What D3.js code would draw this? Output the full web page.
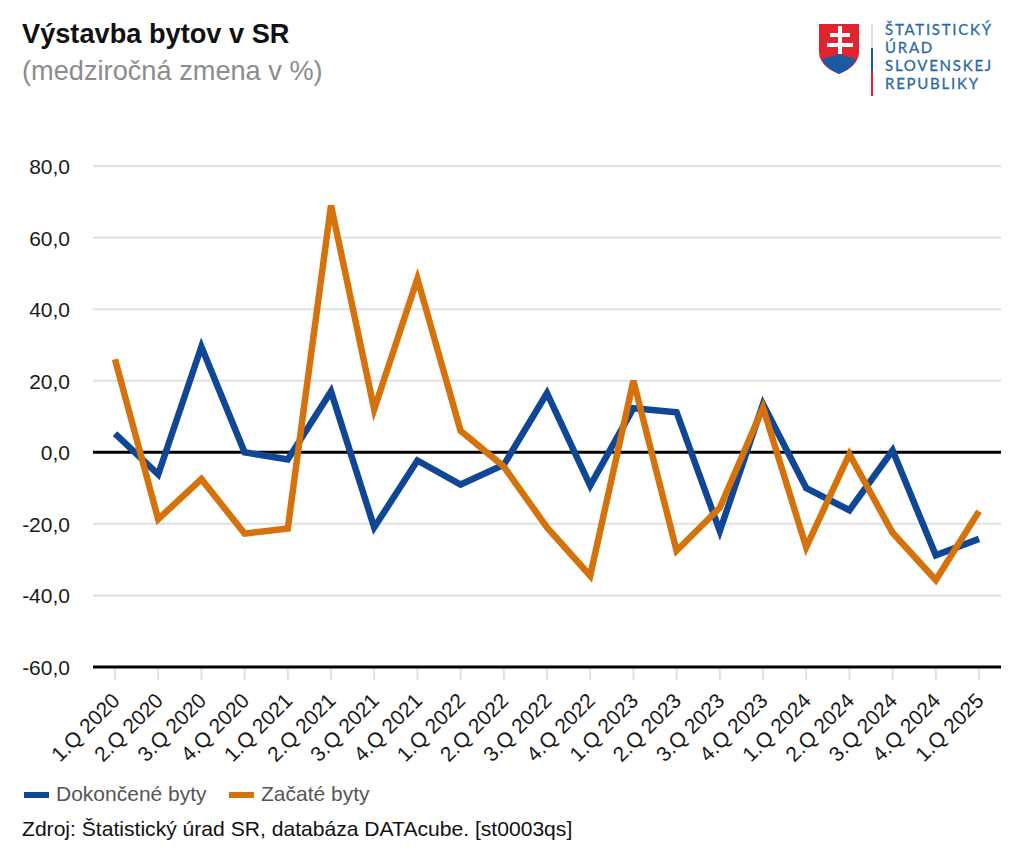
<!DOCTYPE html>
<html>
<head>
<meta charset="utf-8">
<script src="https://cdn.jsdelivr.net/npm/d3@7"></script>
<style>
  html, body { margin: 0; padding: 0; background: #fff; }
  svg { display: block; font-family: "Liberation Sans", Arial, sans-serif; }
</style>
</head>
<body>
<div id="chart"></div>
<script>
const categories = ["1.Q 2020","2.Q 2020","3.Q 2020","4.Q 2020","1.Q 2021","2.Q 2021","3.Q 2021","4.Q 2021",
  "1.Q 2022","2.Q 2022","3.Q 2022","4.Q 2022","1.Q 2023","2.Q 2023","3.Q 2023","4.Q 2023",
  "1.Q 2024","2.Q 2024","3.Q 2024","4.Q 2024","1.Q 2025"]
const dokoncene = [5.2,-6.2,29.5,0,-2,17,-21,-2.3,-9,-3.5,16.5,-9.3,12.3,11.2,-22,13.5,-10,-16.2,0.5,-28.8,-24.2]
const zacate = [26,-18.7,-7.5,-22.7,-21.3,69,12,48.5,6,-4,-21,-34.5,20,-27.5,-15.5,12.5,-26.5,-0.5,-22.5,-35.7,-16.5]
const yTicks = [80,60,40,20,0,-20,-40,-60]
const seriesNames = ["Dokončené byty","Začaté byty"]
const seriesColors = ["#0f4796","#d6720b"]
const logoLines = ["ŠTATISTICKÝ","ÚRAD","SLOVENSKEJ","REPUBLIKY"]

const svg = d3.select("#chart").append("svg")
  .attr("width", 1024)
  .attr("height", 857)

const x = d3.scalePoint().domain(categories).range([115, 979])
const y = d3.scaleLinear().domain([-60, 80]).range([667, 166])
const left = 93, right = 1001

// title
svg.append("text").attr("x", 22).attr("y", 43)
  .attr("font-size", 27.2).attr("font-weight", "bold").attr("fill", "#111")
  .text("Výstavba bytov v SR")
svg.append("text").attr("x", 22).attr("y", 80)
  .attr("font-size", 27.2).attr("fill", "#8c8c8c")
  .text("(medziročná zmena v %)")

// gridlines
svg.selectAll(".grid").data(yTicks.filter(d => d !== 0 && d !== -60)).enter()
  .append("line")
  .attr("x1", left).attr("x2", right)
  .attr("y1", d => y(d)).attr("y2", d => y(d))
  .attr("stroke", "#e0e0e0").attr("stroke-width", 2)

// x tick marks
svg.selectAll(".tick").data(categories).enter()
  .append("line")
  .attr("x1", d => x(d)).attr("x2", d => x(d))
  .attr("y1", y(-60)).attr("y2", y(-60) + 13)
  .attr("stroke", "#e0e0e0").attr("stroke-width", 2)

// zero line + bottom axis
svg.selectAll(".base").data([0, -60]).enter()
  .append("line")
  .attr("x1", left).attr("x2", right)
  .attr("y1", d => y(d)).attr("y2", d => y(d))
  .attr("stroke", "#000").attr("stroke-width", 3)

// y labels
svg.selectAll(".ylab").data(yTicks).enter()
  .append("text")
  .attr("x", 70).attr("y", d => y(d) + 8)
  .attr("text-anchor", "end")
  .attr("font-size", 21).attr("fill", "#1a1a1a")
  .text(d => d3.format(".1f")(d).replace(".", ",").replace("−", "-"))

// x labels
svg.selectAll(".xlab").data(categories).enter()
  .append("text")
  .attr("transform", d => `translate(${x(d) + 6},${y(-60) + 35}) rotate(-45)`)
  .attr("text-anchor", "end")
  .attr("font-size", 21).attr("fill", "#1a1a1a")
  .text(d => d)

// lines
const line = d3.line().x((d, i) => x(categories[i])).y(d => y(d))
svg.selectAll(".series").data([dokoncene, zacate]).enter()
  .append("path")
  .attr("d", line)
  .attr("fill", "none")
  .attr("stroke", (d, i) => seriesColors[i])
  .attr("stroke-width", 6.5)
  .attr("stroke-linejoin", "miter")

// legend
const legendX = [24, 229]
seriesNames.forEach((name, i) => {
  svg.append("rect").attr("x", legendX[i]).attr("y", 792)
    .attr("width", 25).attr("height", 6).attr("fill", seriesColors[i])
  svg.append("text").attr("x", legendX[i] + 32).attr("y", 801)
    .attr("font-size", 21).attr("fill", "#555")
    .text(name)
})

// source
svg.append("text").attr("x", 22).attr("y", 836)
  .attr("font-size", 21.1).attr("fill", "#111")
  .text("Zdroj: Štatistický úrad SR, databáza DATAcube. [st0003qs]")

// logo
const logo = svg.append("g")
logo.append("path")
  .attr("d", "M819 24H859V52C859 63 849 70 839 74C829 70 819 63 819 52Z")
  .attr("fill", "#e1242f")
logo.append("path")
  .attr("d", "M822 60C826 56 830 58 833 56C836 54 842 54 845 56C848 58 852 56 856 60C852 67 846 71 839 74C832 71 826 67 822 60Z")
  .attr("fill", "#1c5aa6")
logo.append("path")
  .attr("d", "M838 26H842V33H850V37H842V43H853V47H842V54H838V47H827V43H838V37H830V33H838Z")
  .attr("fill", "#fff")
logo.append("rect").attr("x", 871).attr("y", 24).attr("width", 2).attr("height", 24).attr("fill", "#ddd")
logo.append("rect").attr("x", 871).attr("y", 48).attr("width", 2).attr("height", 24).attr("fill", "#1c5aa6")
logo.append("rect").attr("x", 871).attr("y", 72).attr("width", 2).attr("height", 24).attr("fill", "#e1242f")
logo.selectAll(".logotxt").data(logoLines).enter()
  .append("text")
  .attr("x", 885)
  .attr("y", (d, i) => 35 + i * 18)
  .attr("font-family", "Lato, sans-serif")
  .attr("font-size", 15)
  .attr("letter-spacing", 1.75)
  .attr("fill", "#2a6aa3")
  .attr("stroke", "#2a6aa3")
  .attr("stroke-width", 0.3)
  .text(d => d)
</script>
</body>
</html>
